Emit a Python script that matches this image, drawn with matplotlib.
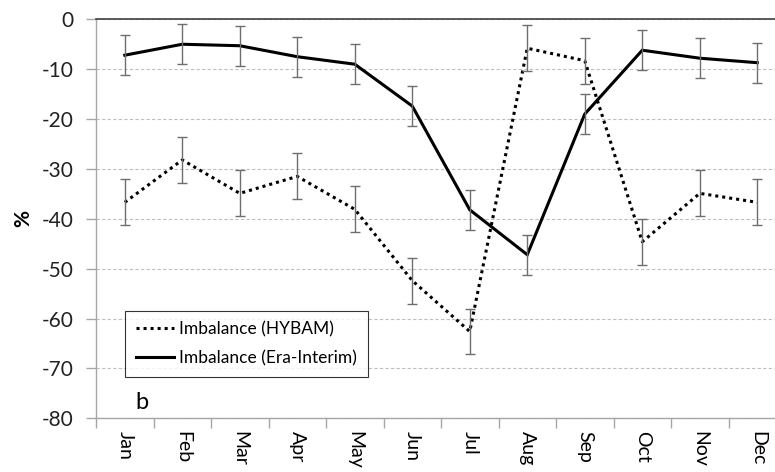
import matplotlib

matplotlib.use("Agg")
import matplotlib.pyplot as plt
import numpy as np

plt.rcParams["font.family"] = ["Lato", "DejaVu Sans"]
plt.rcParams["axes.unicode_minus"] = False

months = ["Jan", "Feb", "Mar", "Apr", "May", "Jun", "Jul", "Aug", "Sep", "Oct", "Nov", "Dec"]
hybam = [-36.7, -28.2, -34.9, -31.5, -38.1, -52.4, -62.6, -5.8, -8.3, -44.6, -34.9, -36.7]
hybam_err = [4.6] * 12
era = [-7.2, -5.0, -5.3, -7.5, -9.0, -17.4, -38.2, -47.2, -19.0, -6.2, -7.8, -8.7]
era_err = [4.0] * 12

fig = plt.figure(figsize=(7.75, 4.72), dpi=100)
ax = fig.add_axes([0.1239, 0.1138, 0.8903, 0.8453])
x = np.arange(len(months))

ax.plot(x, hybam, color="black", linewidth=2.2, linestyle=(0, (1, 1.3)),
        label="Imbalance (HYBAM)", zorder=3)
ax.plot(x, era, color="black", linewidth=2.2, solid_joinstyle="miter",
        label="Imbalance (Era-Interim)", zorder=3)
ax.errorbar(x, hybam, yerr=hybam_err, fmt="none", ecolor="#6e6e6e",
            elinewidth=1.0, capsize=3.5, capthick=1.0, zorder=4)
ax.errorbar(x, era, yerr=era_err, fmt="none", ecolor="#6e6e6e",
            elinewidth=1.0, capsize=3.5, capthick=1.0, zorder=4)

ax.set_xlim(-0.5, 11.5)
ax.set_ylim(-80, 0)
ax.set_yticks(np.arange(-80, 1, 10))
ax.set_xticks(x)
ax.set_xticklabels(months, rotation=-90, fontsize=14)
ax.set_xticks(np.arange(-0.5, 12, 1), minor=True)
ax.tick_params(axis="x", which="major", length=0, pad=9)
ax.tick_params(axis="x", which="minor", length=7, color="#a6a6a6", width=1)
ax.tick_params(axis="y", length=7, color="#a6a6a6", width=1, labelsize=15, pad=9)
for t in ax.get_yticklabels():
    t.set_color("#222222")

ax.grid(axis="y", linestyle=(0, (3, 2)), color="#bfbfbf", linewidth=0.8, zorder=0)
for side in ("left", "bottom"):
    ax.spines[side].set_color("#a6a6a6")
    ax.spines[side].set_linewidth(1)
ax.spines["top"].set_color("#404040")
ax.spines["top"].set_linewidth(1.2)
ax.spines["right"].set_visible(False)

ax.set_ylabel("%", fontsize=15, fontweight="bold", labelpad=6)

ax.legend(loc="lower left", bbox_to_anchor=(0.03, 0.082), fontsize=12.5,
          frameon=True, fancybox=False, edgecolor="black", handlelength=2.2,
          handletextpad=0.3, labelspacing=0.75, borderpad=0.6)
ax.get_legend().get_frame().set_linewidth(0.8)

ax.text(0.3, -76.8, "b", fontsize=17, va="center", ha="center")

fig.savefig("out.png", dpi=100)
